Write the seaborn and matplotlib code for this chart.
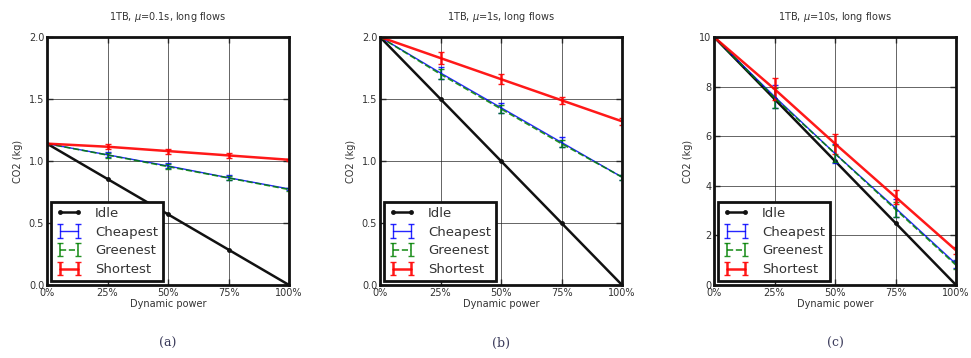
import matplotlib
matplotlib.use("Agg")
import matplotlib.pyplot as plt
import seaborn as sns
import pandas as pd

# ---- data ----
power_levels = [0, 25, 50, 75, 100]
tick_labels = ["0%", "25%", "50%", "75%", "100%"]
titles = ["1TB, $\\mu$=0.1s, long flows", "1TB, $\\mu$=1s, long flows", "1TB, $\\mu$=10s, long flows"]
captions = ["(a)", "(b)", "(c)"]

idle_a = [1.14, 0.855, 0.57, 0.285, 0.0]
cheap_a = [1.14, 1.05, 0.96, 0.865, 0.775]
green_a = [1.14, 1.048, 0.955, 0.863, 0.77]
short_a = [1.14, 1.115, 1.08, 1.045, 1.01]
err_cheap_a = [0.0, 0.02, 0.02, 0.02, 0.01]
err_green_a = [0.0, 0.02, 0.02, 0.02, 0.01]
err_short_a = [0.0, 0.02, 0.02, 0.02, 0.01]

idle_b = [2.0, 1.5, 1.0, 0.5, 0.0]
cheap_b = [2.0, 1.71, 1.43, 1.15, 0.87]
green_b = [2.0, 1.70, 1.42, 1.14, 0.87]
short_b = [2.0, 1.83, 1.66, 1.49, 1.32]
err_cheap_b = [0.0, 0.05, 0.04, 0.04, 0.02]
err_green_b = [0.0, 0.04, 0.03, 0.03, 0.02]
err_short_b = [0.0, 0.05, 0.04, 0.03, 0.03]

idle_c = [10.0, 7.5, 5.0, 2.5, 0.0]
cheap_c = [10.0, 7.6, 5.3, 3.1, 0.85]
green_c = [10.0, 7.55, 5.3, 3.05, 0.8]
short_c = [10.0, 7.9, 5.7, 3.55, 1.4]
err_cheap_c = [0.0, 0.45, 0.4, 0.35, 0.15]
err_green_c = [0.0, 0.4, 0.35, 0.3, 0.15]
err_short_c = [0.0, 0.45, 0.4, 0.3, 0.15]

y_limits = [(0, 2.0), (0, 2.0), (0, 10)]
y_ticks = [[0.0, 0.5, 1.0, 1.5, 2.0], [0.0, 0.5, 1.0, 1.5, 2.0], [0, 2, 4, 6, 8, 10]]
y_ticklabels = [["0.0", "0.5", "1.0", "1.5", "2.0"], ["0.0", "0.5", "1.0", "1.5", "2.0"],
                ["0", "2", "4", "6", "8", "10"]]

panels = [
    (idle_a, cheap_a, green_a, short_a, err_cheap_a, err_green_a, err_short_a),
    (idle_b, cheap_b, green_b, short_b, err_cheap_b, err_green_b, err_short_b),
    (idle_c, cheap_c, green_c, short_c, err_cheap_c, err_green_c, err_short_c),
]

# ---- style ----
sns.set_style("ticks", {
    "axes.edgecolor": "black", "grid.color": "black", "axes.grid": True,
    "xtick.direction": "in", "ytick.direction": "in",
})
plt.rcParams["font.family"] = ["DejaVu Sans"]
plt.rcParams["text.color"] = "#333333"
plt.rcParams["legend.numpoints"] = 2

fig = plt.figure(figsize=(9.71, 3.58), dpi=100)
lefts = [47 / 971, 380 / 971, 714 / 971]
width = 242 / 971
bottom = 1 - 285 / 358
height = (285 - 37) / 358

for i, (idle, cheap, green, short, ec, eg, es) in enumerate(panels):
    ax = fig.add_axes([lefts[i], bottom, width, height])
    df = pd.DataFrame({"power": power_levels, "co2": idle})
    sns.lineplot(data=df, x="power", y="co2", ax=ax, color="#111111", lw=1.8,
                 marker="o", markersize=3.5, markeredgewidth=0, label="Idle")
    ax.errorbar(power_levels, cheap, yerr=ec, color="blue", lw=1, capsize=2.5,
                alpha=0.85, label="Cheapest")
    ax.errorbar(power_levels, green, yerr=eg, color="green", lw=1.2, ls="--",
                capsize=2.5, alpha=0.85, label="Greenest")
    ax.errorbar(power_levels, short, yerr=es, color="red", lw=1.8, capsize=2.5,
                alpha=0.9, label="Shortest")
    ax.set_xlim(0, 100)
    ax.set_ylim(*y_limits[i])
    ax.set_xticks(power_levels)
    ax.set_xticklabels(tick_labels, fontsize=7, color="#333333")
    ax.set_yticks(y_ticks[i])
    ax.set_yticklabels(y_ticklabels[i], fontsize=7, color="#333333")
    ax.tick_params(top=True, right=True, length=4, width=1, pad=2)
    ax.grid(True, color="#222222", lw=0.7, alpha=0.7)
    for s in ax.spines.values():
        s.set_linewidth(2)
        s.set_color("#111111")
    ax.set_xlabel("Dynamic power", fontsize=7, color="#333333", labelpad=1)
    ax.set_ylabel("CO2 (kg)", fontsize=7, color="#333333", labelpad=4)
    ax.set_title(titles[i], fontsize=7, color="#333333", pad=12)
    leg = ax.legend(loc="lower left", fontsize=9.5, frameon=True, fancybox=False,
                    borderaxespad=0.3, handlelength=2.0, labelspacing=0.45,
                    borderpad=0.35, handletextpad=1.0)
    leg.get_frame().set_edgecolor("#111111")
    leg.get_frame().set_linewidth(2)
    leg.get_frame().set_alpha(1)
    for t in leg.get_texts():
        t.set_color("#333333")
    fig.text(lefts[i] + width / 2, 1 - 343 / 358, captions[i], ha="center", va="center",
             fontsize=9, family="DejaVu Serif", color="#3a3a5a")

fig.savefig("out.png", dpi=100)
